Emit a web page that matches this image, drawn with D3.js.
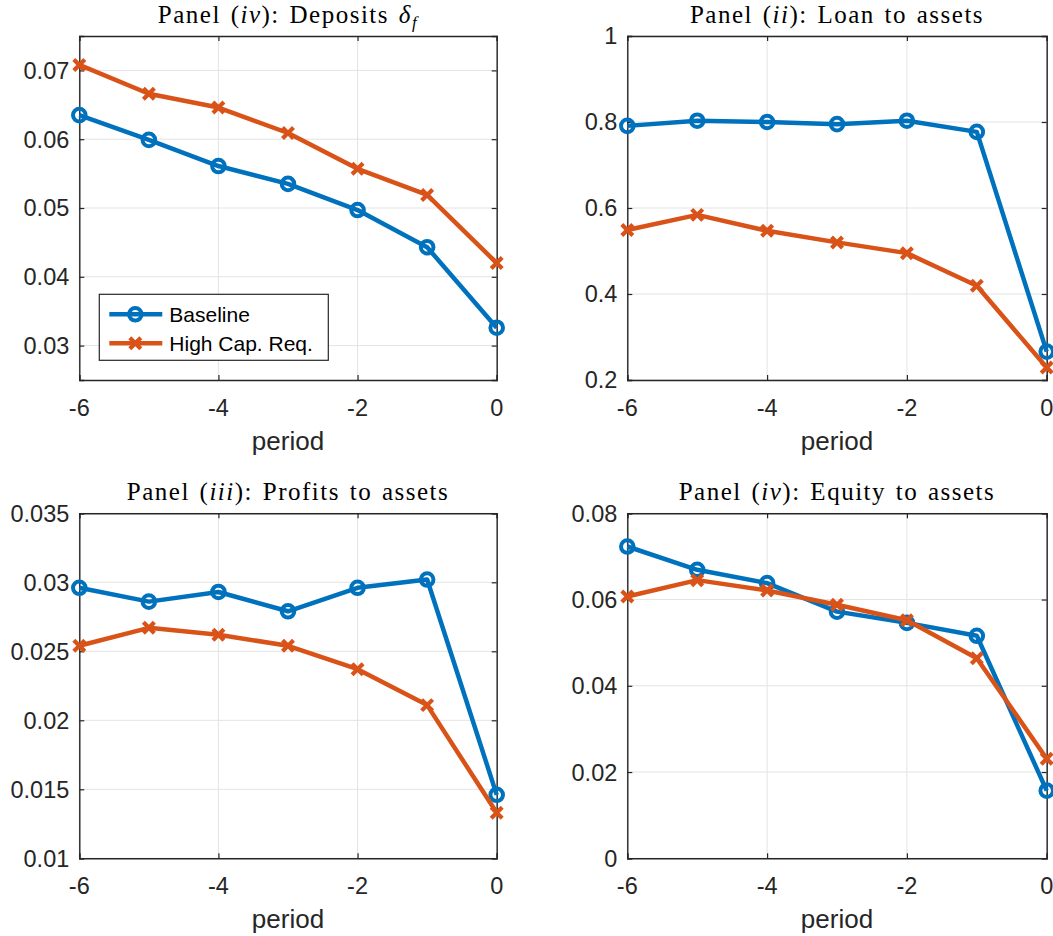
<!DOCTYPE html>
<html>
<head>
<meta charset="utf-8">
<script src="https://cdn.jsdelivr.net/npm/d3@7"></script>
<style>
  html, body { margin: 0; padding: 0; background: #fff; }
  svg { display: block; }
</style>
</head>
<body>
<svg id="chart" width="1053" height="936"></svg>
<script>
// ---------------- DATA ----------------
const periods = [-6, -5, -4, -3, -2, -1, 0];
const xTicks = [-6, -4, -2, 0];
const seriesNames = ["Baseline", "High Cap. Req."];

const depositsBaseline = [0.0635, 0.0599, 0.0561, 0.0535, 0.0497, 0.0443, 0.0326];
const depositsHighCap  = [0.0708, 0.0666, 0.0646, 0.0609, 0.0557, 0.0519, 0.0420];
const depositsTicks = [0.03, 0.04, 0.05, 0.06, 0.07];
const depositsDomain = [0.025, 0.075];

const loanBaseline = [0.791, 0.803, 0.800, 0.795, 0.803, 0.777, 0.266];
const loanHighCap  = [0.549, 0.584, 0.547, 0.520, 0.495, 0.419, 0.229];
const loanTicks = [0.2, 0.4, 0.6, 0.8, 1];
const loanDomain = [0.2, 1];

const profitsBaseline = [0.0296, 0.0286, 0.0293, 0.0279, 0.0296, 0.0302, 0.0146];
const profitsHighCap  = [0.0254, 0.0267, 0.0262, 0.0254, 0.0237, 0.0211, 0.0133];
const profitsTicks = [0.01, 0.015, 0.02, 0.025, 0.03, 0.035];
const profitsDomain = [0.01, 0.035];

const equityBaseline = [0.0723, 0.0669, 0.0638, 0.0572, 0.0546, 0.0516, 0.0157];
const equityHighCap  = [0.0607, 0.0645, 0.0621, 0.0588, 0.0552, 0.0464, 0.0231];
const equityTicks = [0, 0.02, 0.04, 0.06, 0.08];
const equityDomain = [0, 0.08];

const xLabel = "period";

// ---------------- STYLE ----------------
const colors = ["#0072BD", "#D95319"];
const axisColor = "#262626";
const gridColor = "#e3e3e3";
const sansFont = "'Liberation Sans', Arial, Helvetica, sans-serif";
const serifFont = "'Liberation Serif', 'Times New Roman', serif";

const panels = [
  { title: [["Panel (", "n"], ["iv", "i"], ["): Deposits ", "n"], ["δ", "i"], ["f", "sub"]],
    base: depositsBaseline, high: depositsHighCap, ticks: depositsTicks, domain: depositsDomain,
    box: [79.3, 36, 496.7, 380], legend: true },
  { title: [["Panel (", "n"], ["ii", "i"], ["): Loan to assets", "n"]],
    base: loanBaseline, high: loanHighCap, ticks: loanTicks, domain: loanDomain,
    box: [627.3, 36, 1046.7, 380] },
  { title: [["Panel (", "n"], ["iii", "i"], ["): Profits to assets", "n"]],
    base: profitsBaseline, high: profitsHighCap, ticks: profitsTicks, domain: profitsDomain,
    box: [79.3, 513.3, 496.7, 858.3] },
  { title: [["Panel (", "n"], ["iv", "i"], ["): Equity to assets", "n"]],
    base: equityBaseline, high: equityHighCap, ticks: equityTicks, domain: equityDomain,
    box: [627.3, 513.3, 1046.7, 858.3] }
];

const svg = d3.select("#chart");
const fmt = v => String(+v.toFixed(4));
const tickLen = 5;
const lineW = 4.5;

function drawMarker(g, type, cx, cy, color) {
  if (type === 0) {
    g.append("circle").attr("cx", cx).attr("cy", cy).attr("r", 6.3)
      .attr("fill", "none").attr("stroke", color).attr("stroke-width", 4);
  } else {
    const s = 5.5;
    g.append("path")
      .attr("d", `M${cx - s},${cy - s}L${cx + s},${cy + s}M${cx - s},${cy + s}L${cx + s},${cy - s}`)
      .attr("stroke", color).attr("stroke-width", 4.2).attr("fill", "none");
  }
}

panels.forEach(p => {
  const [x0, y0, x1, y1] = p.box;
  const x = d3.scaleLinear().domain([periods[0], periods[periods.length - 1]]).range([x0, x1]);
  const y = d3.scaleLinear().domain(p.domain).range([y1, y0]);
  const g = svg.append("g");

  // grid
  g.append("g").selectAll("line").data(xTicks).join("line")
    .attr("x1", d => x(d)).attr("x2", d => x(d)).attr("y1", y0).attr("y2", y1)
    .attr("stroke", gridColor).attr("stroke-width", 1);
  g.append("g").selectAll("line").data(p.ticks).join("line")
    .attr("x1", x0).attr("x2", x1).attr("y1", d => y(d)).attr("y2", d => y(d))
    .attr("stroke", gridColor).attr("stroke-width", 1);

  // axes using d3 axis generators (ticks inward, box on)
  const axB = d3.axisBottom(x).tickValues(xTicks).tickSize(-tickLen).tickFormat("");
  const axT = d3.axisTop(x).tickValues(xTicks).tickSize(-tickLen).tickFormat("");
  const axL = d3.axisLeft(y).tickValues(p.ticks).tickSize(-tickLen).tickFormat("");
  const axR = d3.axisRight(y).tickValues(p.ticks).tickSize(-tickLen).tickFormat("");
  [[axB, `translate(0,${y1})`], [axT, `translate(0,${y0})`],
   [axL, `translate(${x0},0)`], [axR, `translate(${x1},0)`]].forEach(([ax, tr]) => {
    const a = g.append("g").attr("transform", tr).call(ax);
    a.selectAll("path.domain").attr("stroke", axisColor).attr("stroke-width", 1.4);
    a.selectAll(".tick line").attr("stroke", axisColor).attr("stroke-width", 1.2);
  });

  // tick labels
  g.append("g").selectAll("text").data(xTicks).join("text")
    .attr("x", d => x(d)).attr("y", y1 + 36)
    .attr("text-anchor", "middle").attr("font-family", sansFont).attr("font-size", 23.5)
    .attr("fill", axisColor).text(d => fmt(d));
  g.append("g").selectAll("text").data(p.ticks).join("text")
    .attr("x", x0 - 10).attr("y", d => y(d)).attr("dy", "0.36em")
    .attr("text-anchor", "end").attr("font-family", sansFont).attr("font-size", 23.5)
    .attr("fill", axisColor).text(d => fmt(d));

  // x label
  g.append("text").attr("x", (x0 + x1) / 2).attr("y", y1 + 70)
    .attr("text-anchor", "middle").attr("font-family", sansFont).attr("font-size", 26)
    .attr("fill", axisColor).text(xLabel);

  // title
  const t = g.append("text").attr("x", (x0 + x1) / 2).attr("y", y0 - 13)
    .attr("text-anchor", "middle").attr("font-family", serifFont).attr("font-size", 25)
    .attr("letter-spacing", 1.5).attr("word-spacing", 2).attr("fill", "#000");
  p.title.forEach(([s, kind]) => {
    const ts = t.append("tspan").text(s);
    if (kind === "i") ts.attr("font-style", "italic");
    if (kind === "sub") ts.attr("font-style", "italic").attr("font-size", 17).attr("dy", 5);
  });

  // lines + markers
  [p.base, p.high].forEach((vals, si) => {
    const line = d3.line().x((d, i) => x(periods[i])).y(d => y(d));
    g.append("path").datum(vals).attr("d", line)
      .attr("fill", "none").attr("stroke", colors[si]).attr("stroke-width", lineW)
      .attr("stroke-linejoin", "round");
    const mg = g.append("g");
    vals.forEach((v, i) => drawMarker(mg, si, x(periods[i]), y(v), colors[si]));
  });

  // legend
  if (p.legend) {
    const lx = 99.3, ly = 294.3, lw = 229, lh = 66;
    const lg = g.append("g");
    lg.append("rect").attr("x", lx).attr("y", ly).attr("width", lw).attr("height", lh)
      .attr("fill", "#fff").attr("stroke", axisColor).attr("stroke-width", 1.2);
    seriesNames.forEach((name, si) => {
      const cy = ly + 20 + si * 29;
      lg.append("line").attr("x1", lx + 10).attr("x2", lx + 63).attr("y1", cy).attr("y2", cy)
        .attr("stroke", colors[si]).attr("stroke-width", lineW);
      drawMarker(lg, si, lx + 36, cy, colors[si]);
      lg.append("text").attr("x", lx + 70).attr("y", cy).attr("dy", "0.36em")
        .attr("font-family", sansFont).attr("font-size", 21).attr("fill", "#000").text(name);
    });
  }
});
</script>
</body>
</html>
